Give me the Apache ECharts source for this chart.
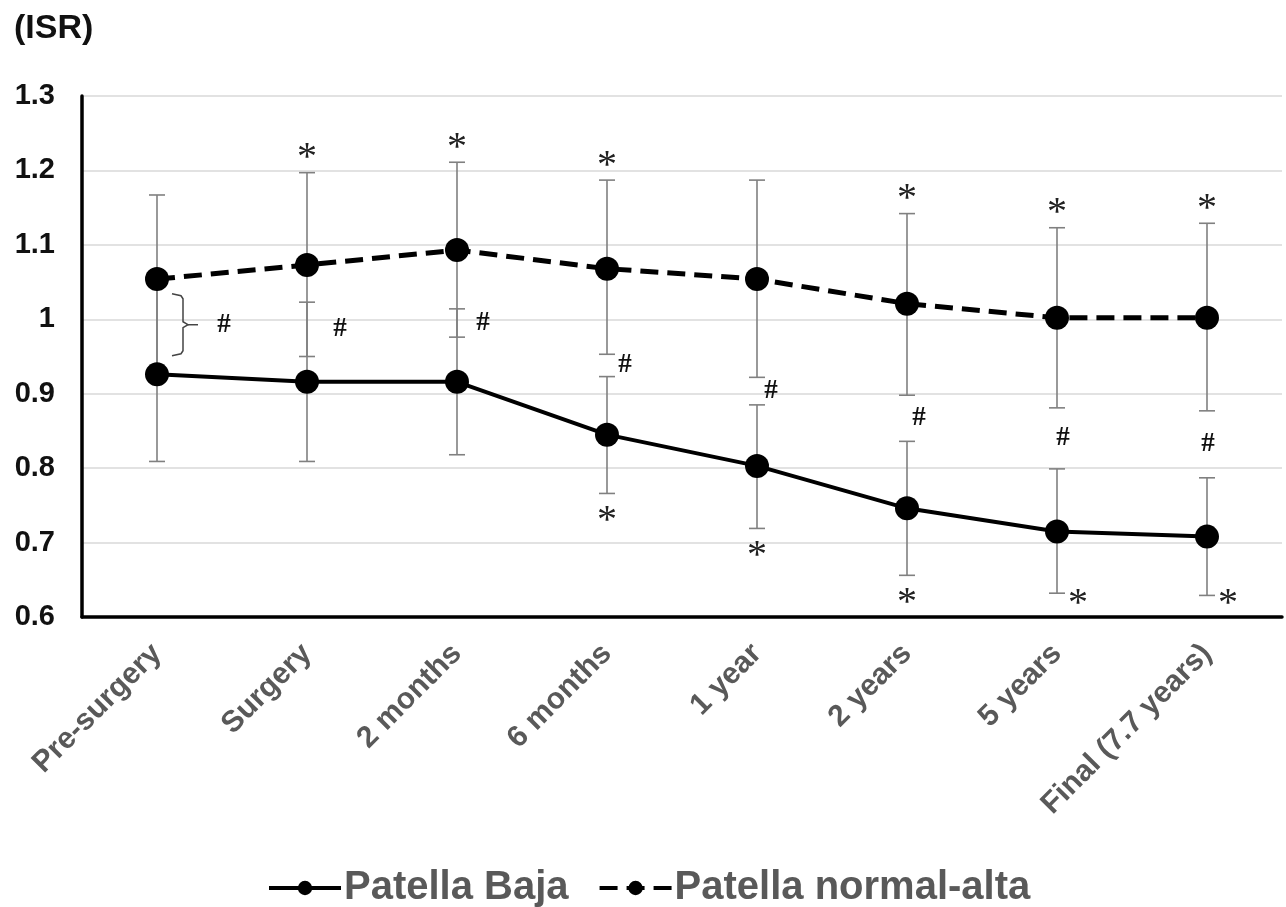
<!DOCTYPE html>
<html>
<head>
<meta charset="utf-8">
<script src="https://cdn.jsdelivr.net/npm/echarts@6/dist/echarts.min.js"></script>
<style>
  html, body { margin: 0; padding: 0; background: #fff; }
  #chart { width: 1286px; height: 907px; }
</style>
</head>
<body>
<div id="chart"></div>
<script>
// ---------------- DATA ----------------
const categories = ['Pre-surgery', 'Surgery', '2 months', '6 months', '1 year', '2 years', '5 years', 'Final (7.7 years)'];

const bajaName = 'Patella Baja';
const bajaMean = [0.926, 0.916, 0.916, 0.845, 0.803, 0.746, 0.715, 0.708];
const bajaLow  = [0.809, 0.809, 0.818, 0.766, 0.719, 0.656, 0.632, 0.629];
const bajaHigh = [1.043, 1.023, 1.014, 0.923, 0.885, 0.836, 0.799, 0.787];

const altaName = 'Patella normal-alta';
const altaMean = [1.054, 1.073, 1.093, 1.068, 1.054, 1.021, 1.002, 1.002];
const altaLow  = [0.941, 0.950, 0.976, 0.953, 0.922, 0.898, 0.881, 0.877];
const altaHigh = [1.167, 1.197, 1.211, 1.187, 1.187, 1.142, 1.123, 1.129];

// significance markers (1 = marked)
const altaStar = [0, 1, 1, 1, 0, 1, 1, 1];   // "*" above normal-alta
const bajaStar = [0, 0, 0, 1, 1, 1, 1, 1];   // "*" below baja
const groupHash = [1, 1, 1, 1, 1, 1, 1, 1];  // "#" between groups
const groupBrace = [1, 0, 0, 0, 0, 0, 0, 0]; // brace drawn next to "#"

const yMin = 0.6, yMax = 1.3, yStep = 0.1;
const yAxisName = '(ISR)';

// ---------------- LAYOUT / STYLE ----------------
const FONT = "'Liberation Sans', Arial, sans-serif";
const SERIF = "'Liberation Serif', 'Times New Roman', serif";
const innerCaps = [0, 1, 1, 1, 1, 1, 1, 1];
const hashDx = [67, 33, 26, 18, 14, 12, 6, 1];
const ERR_COLOR = '#808080';
const CAP_HALF = 8;

function errorSeries(low, high, capLowAlways) {
  return {
    type: 'custom',
    z: 1,
    silent: true,
    data: categories.map((c, i) => [i, low[i], high[i]]),
    renderItem: function (params, api) {
      const i = api.value(0);
      const lo = api.coord([i, api.value(1)]);
      const hi = api.coord([i, api.value(2)]);
      const st = { stroke: ERR_COLOR, lineWidth: 1.6 };
      const children = [
        { type: 'line', shape: { x1: lo[0], y1: lo[1], x2: hi[0], y2: hi[1] }, style: st }
      ];
      const showLowCap = capLowAlways || innerCaps[i];
      const showHighCap = !capLowAlways || innerCaps[i];
      if (showLowCap) children.push({ type: 'line', shape: { x1: lo[0] - CAP_HALF, y1: lo[1], x2: lo[0] + CAP_HALF, y2: lo[1] }, style: st });
      if (showHighCap) children.push({ type: 'line', shape: { x1: hi[0] - CAP_HALF, y1: hi[1], x2: hi[0] + CAP_HALF, y2: hi[1] }, style: st });
      return { type: 'group', children: children };
    }
  };
}

const annotationSeries = {
  type: 'custom',
  z: 5,
  silent: true,
  data: categories.map((c, i) => [i, altaMean[i]]),
  renderItem: function (params, api) {
    const i = api.value(0);
    const children = [];
    const starStyle = (x, y) => ({
      type: 'text',
      style: { text: '*', x: x, y: y, textAlign: 'center', textVerticalAlign: 'middle',
               font: '40px ' + SERIF, fill: '#222' }
    });
    if (altaStar[i]) {
      const p = api.coord([i, altaHigh[i]]);
      children.push(starStyle(p[0], p[1] - 14));
    }
    if (bajaStar[i]) {
      const p = api.coord([i, bajaLow[i]]);
      let y = p[1] + 28, x = p[0];
      if (y > 606) { y = 604; x += 21; }
      children.push(starStyle(x, y));
    }
    if (groupHash[i]) {
      const a = api.coord([i, altaLow[i]]);
      const b = api.coord([i, bajaHigh[i]]);
      const y = (a[1] + b[1]) / 2;
      children.push({
        type: 'text',
        style: { text: '#', x: a[0] + hashDx[i], y: y, textAlign: 'center', textVerticalAlign: 'middle',
                 font: 'bold 27px ' + SERIF, fill: '#111' }
      });
    }
    if (groupBrace[i]) {
      const a = api.coord([i, altaMean[i]]);
      const b = api.coord([i, bajaMean[i]]);
      const m = (a[1] + b[1]) / 2 - 2;
      const x = a[0];
      children.push({
        type: 'polyline',
        shape: { points: [[x + 15, m - 31], [x + 24, m - 29], [x + 26, m - 26], [x + 26, m - 3], [x + 31, m],
                          [x + 26, m + 3], [x + 26, m + 26], [x + 24, m + 29], [x + 15, m + 31]] },
        style: { stroke: '#444', lineWidth: 1.5, fill: null }
      });
      children.push({
        type: 'line',
        shape: { x1: x + 31, y1: m, x2: x + 41, y2: m },
        style: { stroke: '#444', lineWidth: 1.5 }
      });
    }
    return { type: 'group', children: children };
  }
};

const chart = echarts.init(document.getElementById('chart'), null, { renderer: 'canvas' });
chart.setOption({
  backgroundColor: '#fff',
  animation: false,
  graphic: [{
    type: 'text', left: 14, top: 12,
    style: { text: yAxisName, font: 'bold 34px ' + FONT, fill: '#111' }
  }],
  grid: { left: 82, right: 4, top: 96, bottom: 290, containLabel: false },
  legend: {
    data: [bajaName, altaName],
    left: 262,
    top: 863,
    itemWidth: 72,
    itemHeight: 18,
    itemGap: 29,
    lineStyle: { width: 4 },
    textStyle: { fontFamily: FONT, fontWeight: 'bold', fontSize: 40, color: '#595959', padding: [0, 0, 0, -2] }
  },
  xAxis: {
    type: 'category',
    data: categories,
    boundaryGap: true,
    axisLine: { show: true, lineStyle: { color: '#000', width: 3.5 } },
    axisTick: { show: false },
    axisLabel: {
      rotate: 45, margin: 32, interval: 0,
      fontFamily: FONT, fontWeight: 'bold', fontSize: 30, color: '#595959'
    },
    splitLine: { show: false }
  },
  yAxis: {
    type: 'value',
    min: yMin, max: yMax, interval: yStep,
    axisLine: { show: true, lineStyle: { color: '#000', width: 3.5 } },
    axisTick: { show: false },
    axisLabel: {
      margin: 27,
      fontFamily: FONT, fontWeight: 'bold', fontSize: 29, color: '#111',
      formatter: v => String(+v.toFixed(1))
    },
    splitLine: { show: true, lineStyle: { color: '#d9d9d9', width: 1.5 } }
  },
  series: [
    errorSeries(altaLow, altaHigh, false),
    errorSeries(bajaLow, bajaHigh, true),
    {
      name: bajaName, type: 'line', data: bajaMean, z: 3,
      symbol: 'circle', symbolSize: 24,
      lineStyle: { color: '#000', width: 4 },
      itemStyle: { color: '#000' }
    },
    {
      name: altaName, type: 'line', data: altaMean, z: 3,
      symbol: 'circle', symbolSize: 24,
      lineStyle: { color: '#000', width: 5, type: [18, 9] },
      itemStyle: { color: '#000' }
    },
    annotationSeries
  ]
});
</script>
</body>
</html>
